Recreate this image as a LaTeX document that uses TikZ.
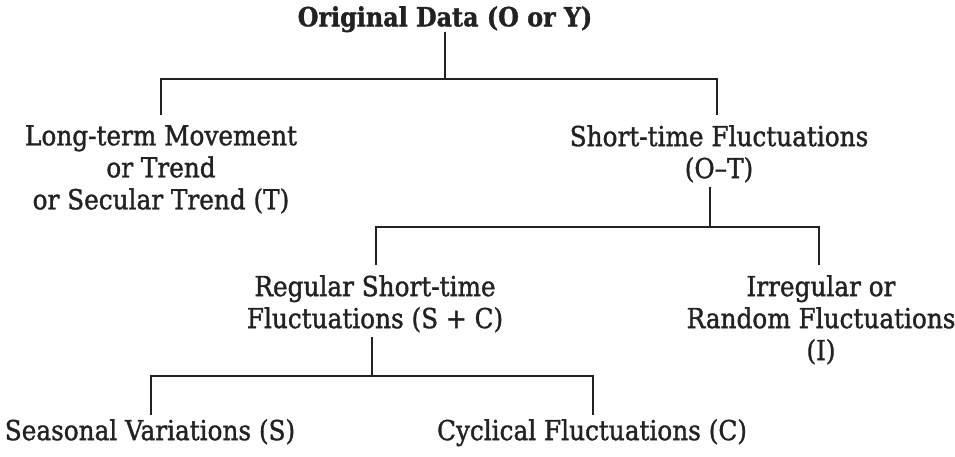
\documentclass[tikz,border=0pt]{standalone}
\usepackage{fontspec}
\setmainfont[FakeBold=1.3]{DejaVu Serif Condensed}
\definecolor{ink}{HTML}{222222}
\begin{document}
\begin{tikzpicture}[x=1pt, y=-1pt,
        box/.style={align=center, inner sep=0pt, anchor=north, text=ink,
            font=\fontsize{27.5}{32}\selectfont},
        link/.style={draw=ink, line width=1.2pt}]
        \useasboundingbox (0,0) rectangle (955,456);
        \def \gap {10pt} % space between a stub and the text under it

        \node[box, font=\fontsize{26.5}{32}\selectfont\bfseries] (orig) at (445,6) {Original Data (O or Y)};
        \node[box] (trend) at (161,125) {Long-term Movement\\or Trend\\or Secular Trend (T)};
        \node[box] (shortf) at (719,125) {Short-time Fluctuations\\(O--T)};
        \node[box] (regular) at (375,275) {Regular Short-time\\Fluctuations (S + C)};
        \node[box] (irregular) at (821,275) {Irregular or\\Random Fluctuations\\(I)};
        \node[box] (seasonal) at (150,419) {Seasonal Variations (S)};
        \node[box] (cyclical) at (592,419) {Cyclical Fluctuations (C)};

        \coordinate (j1) at (445,79);
        \coordinate (j2) at (710,227);
        \coordinate (j3) at (372,376);

        \draw[link] (orig.south) -- (j1);
        \draw[link] ([yshift=\gap]trend.north) |- (j1) -| ([xshift=-2pt,yshift=\gap]shortf.north);
        \draw[link] ([xshift=-9pt,yshift=-4pt]shortf.south) -- (j2);
        \draw[link] ([xshift=1pt,yshift=\gap]regular.north) |- (j2) -| ([xshift=-2pt,yshift=\gap]irregular.north);
        \draw[link] ([xshift=-3pt,yshift=-4pt]regular.south) -- (j3);
        \draw[link] ([xshift=1pt,yshift=4pt]seasonal.north) |- (j3) -| ([xshift=1pt,yshift=4pt]cyclical.north);
\end{tikzpicture}
\end{document}
